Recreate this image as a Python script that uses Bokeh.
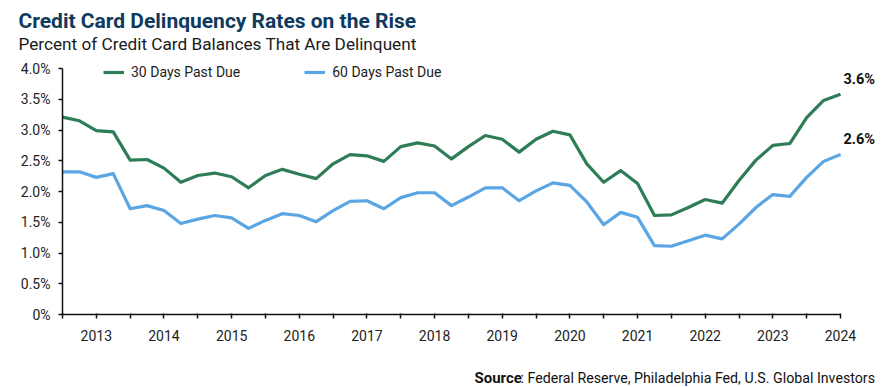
from bokeh.plotting import figure
from bokeh.models import (ColumnDataSource, FixedTicker, Legend, LegendItem,
                          Label, LabelSet)
from bokeh.core.properties import value
from bokeh.embed import file_html
from bokeh.resources import INLINE

# ---- data (quarterly, Q3 2012 .. Q1 2024) ----
quarter_index = list(range(47))
days30 = [3.21, 3.15, 2.99, 2.97, 2.51, 2.52, 2.38, 2.15, 2.26, 2.30,
          2.24, 2.06, 2.26, 2.36, 2.28, 2.21, 2.45, 2.60, 2.58, 2.49,
          2.73, 2.79, 2.74, 2.53, 2.73, 2.91, 2.85, 2.64, 2.85, 2.98,
          2.92, 2.45, 2.15, 2.34, 2.13, 1.61, 1.62, 1.74, 1.87, 1.81,
          2.18, 2.51, 2.75, 2.78, 3.20, 3.48, 3.58]
days60 = [2.32, 2.32, 2.23, 2.29, 1.72, 1.77, 1.69, 1.48, 1.55, 1.61,
          1.57, 1.40, 1.53, 1.64, 1.61, 1.51, 1.69, 1.84, 1.85, 1.72,
          1.90, 1.98, 1.98, 1.77, 1.91, 2.06, 2.06, 1.85, 2.01, 2.14,
          2.10, 1.83, 1.46, 1.66, 1.58, 1.12, 1.11, 1.20, 1.29, 1.23,
          1.47, 1.74, 1.95, 1.92, 2.23, 2.49, 2.60]
year_labels = ["2013", "2014", "2015", "2016", "2017", "2018",
               "2019", "2020", "2021", "2022", "2023", "2024"]
year_tick_index = [2, 6, 10, 14, 18, 22, 26, 30, 34, 38, 42, 46]
y_ticks = [0, 0.5, 1.0, 1.5, 2.0, 2.5, 3.0, 3.5, 4.0]
y_tick_labels = ["0%", "0.5%", "1.0%", "1.5%", "2.0%", "2.5%", "3.0%", "3.5%", "4.0%"]
series_names = ["30 Days Past Due", "60 Days Past Due"]

GREEN = "#2E7D57"
BLUE = "#5AA5E3"
NAVY = "#0E3A5D"
FONT = "Roboto"

# ---- layout (pixels) ----
W, H = 895, 387
AX_LEFT, AX_RIGHT = 62, 840      # pixel x of first / last quarter
AX_BOTTOM, AX_TOP = 314, 68      # pixel y of 0% / 4%
x0, x1 = quarter_index[0], quarter_index[-1]
y0, y1 = y_ticks[0], y_ticks[-1]
sx = (AX_RIGHT - AX_LEFT) / (x1 - x0)
sy = (AX_BOTTOM - AX_TOP) / (y1 - y0)
x_range = (x0 - AX_LEFT / sx, x0 + (W - AX_LEFT) / sx)
y_range = (y0 - (H - AX_BOTTOM) / sy, y0 + AX_BOTTOM / sy)

src = ColumnDataSource(dict(x=quarter_index, d30=days30, d60=days60))

p = figure(width=W, height=H, output_backend="svg", toolbar_location=None,
           x_range=x_range, y_range=y_range,
           min_border_left=0, min_border_right=0,
           min_border_top=0, min_border_bottom=0)
p.title.visible = False
p.outline_line_color = None
p.background_fill_color = "white"
p.border_fill_color = "white"
p.xgrid.visible = False
p.ygrid.visible = False

r30 = p.line("x", "d30", source=src, line_color=GREEN, line_width=3.2,
             line_join="round")
r60 = p.line("x", "d60", source=src, line_color=BLUE, line_width=3.2,
             line_join="round")

# axes (drawn inside the full-canvas frame)
xa = p.xaxis[0]
xa.fixed_location = y0
xa.bounds = (x0, x1)
xa.ticker = FixedTicker(ticks=list(range(x0, x1 + 1, 2)))
overrides = {i: "" for i in range(x0, x1 + 1, 2)}
for i, lab in zip(year_tick_index, year_labels):
    overrides[i] = lab
xa.major_label_overrides = overrides
xa.minor_tick_line_color = None
xa.major_tick_in = 1
xa.major_tick_out = 4
xa.axis_line_width = 1.5
xa.major_tick_line_width = 1.5
xa.axis_line_color = "#111111"
xa.major_tick_line_color = "#111111"
xa.major_label_standoff = 11
xa.major_label_text_font = FONT
xa.major_label_text_font_size = "14px"
xa.major_label_text_color = "#222222"

ya = p.yaxis[0]
ya.fixed_location = x0
ya.bounds = (y0, y1)
ya.ticker = FixedTicker(ticks=y_ticks)
ya.major_label_overrides = {t: l for t, l in zip(y_ticks, y_tick_labels)}
ya.minor_tick_line_color = None
ya.major_tick_in = 0
ya.major_tick_out = 4
ya.axis_line_width = 1.5
ya.major_tick_line_width = 1.5
ya.axis_line_color = "#111111"
ya.major_tick_line_color = "#111111"
ya.major_label_standoff = 8
ya.major_label_text_font = FONT
ya.major_label_text_font_size = "14px"
ya.major_label_text_color = "#222222"

# legend
legend = Legend(items=[LegendItem(label=series_names[0], renderers=[r30]),
                       LegendItem(label=series_names[1], renderers=[r60])],
                orientation="horizontal", location=(103, H - 80),
                padding=0, margin=0, spacing=64,
                glyph_width=21, glyph_height=16, label_height=16,
                label_standoff=7,
                label_text_font=FONT, label_text_font_size="14px",
                label_text_color="#222222",
                background_fill_alpha=0, border_line_color=None)
p.add_layout(legend)

# end labels
end_src = ColumnDataSource(dict(
    x=[quarter_index[-1], quarter_index[-1]],
    y=[days30[-1], days60[-1]],
    t=[f"{days30[-1]:.1f}%", f"{days60[-1]:.1f}%"]))
p.add_layout(LabelSet(x="x", y="y", text="t", source=end_src,
                      x_offset=3, y_offset=15, text_align="left",
                      text_baseline="middle", text_font=value(FONT),
                      text_font_style="bold", text_font_size="14.5px",
                      text_color="#111111"))

# title, subtitle, source (screen units: x from left, y up from bottom)
p.add_layout(Label(x=18, y=H - 20, x_units="screen", y_units="screen",
                   text="Credit Card Delinquency Rates on the Rise",
                   text_font=FONT, text_font_style="bold",
                   text_font_size="21px", text_color=NAVY,
                   text_baseline="alphabetic"))
p.add_layout(Label(x=18, y=H - 43, x_units="screen", y_units="screen",
                   text="Percent of Credit Card Balances That Are Delinquent",
                   text_font=FONT, text_font_size="17.2px", text_color="#1a1a1a",
                   text_baseline="alphabetic"))
p.add_layout(Label(x=474, y=H - 377, x_units="screen", y_units="screen",
                   text="Source", text_font=FONT, text_font_style="bold",
                   text_font_size="15px", text_color="#111111",
                   text_baseline="alphabetic"))
p.add_layout(Label(x=520, y=H - 377, x_units="screen", y_units="screen",
                   text=": Federal Reserve, Philadelphia Fed, U.S. Global Investors",
                   text_font=FONT, text_font_size="14.2px", text_color="#111111",
                   text_baseline="alphabetic"))

open("out.html", "w").write(file_html(p, INLINE))
